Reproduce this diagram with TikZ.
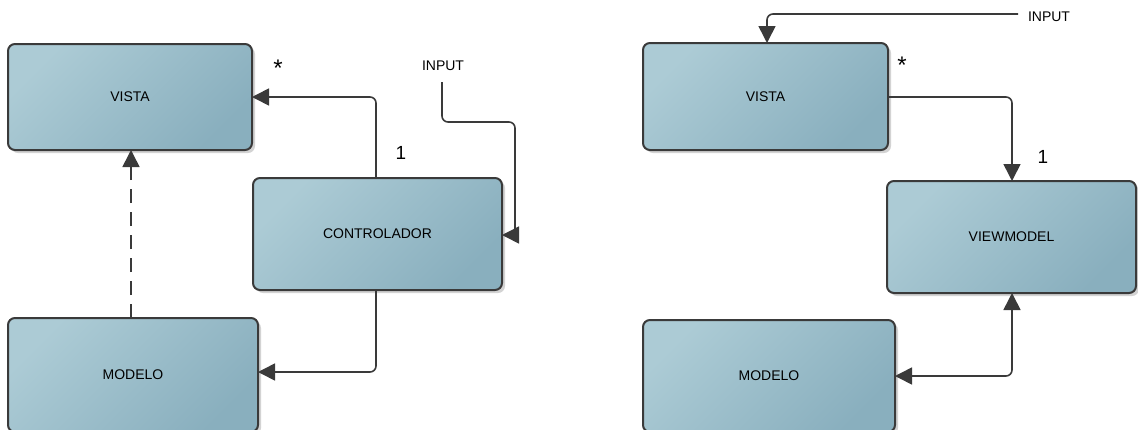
\documentclass[tikz,border=0pt]{standalone}
\usepackage{fontspec}
\setmainfont{Liberation Sans}
\usetikzlibrary{arrows.meta,shadows}
\definecolor{boxtop}{RGB}{172,203,213}
\definecolor{boxbot}{RGB}{137,175,190}
\definecolor{edge}{RGB}{58,58,58}
\definecolor{shd}{RGB}{200,200,200}
\tikzset{
  umlbox/.style={draw=edge, line width=2pt, rounded corners=7pt,
    top color=boxtop, bottom color=boxbot, shading angle=45,
    drop shadow={shadow xshift=3pt, shadow yshift=-3pt, fill=shd, opacity=0.8},
    font=\fontsize{14}{16}\selectfont},
  conn/.style={draw=edge, line width=1.6pt, rounded corners=6pt},
  tip/.style={-{Triangle[length=17pt,width=17pt]}},
  lbl/.style={font=\fontsize{14}{16}\selectfont, text=black, inner sep=0pt},
  mult/.style={font=\fontsize{19}{21}\selectfont, text=black, inner sep=0pt},
  star/.style={font=\fontsize{24}{26}\selectfont, text=black, inner sep=0pt},
}
\begin{document}
\begin{tikzpicture}[x=1pt,y=-1pt]
\useasboundingbox (0,0) rectangle (1138,429);
% left diagram
\draw[umlbox] (8,44) rectangle node (vl) {VISTA} (252,150);
\coordinate (vlr) at (252,97);
\coordinate (vlb) at (131,150);
\draw[umlbox] (253,178) rectangle node (cl) {CONTROLADOR} (502,290);
\coordinate (clt) at (376,178);
\coordinate (clb) at (376,290);
\coordinate (clr) at (502,235);
\draw[umlbox] (8,318) rectangle node (ml) {MODELO} (258,432);
\coordinate (mlr) at (258,372);
\coordinate (mlt) at (131,318);
\node[lbl] (inl) at (443,66) {INPUT};
\coordinate (inls) at (442,82);
\node[star] (sl) at (278,68) {*};
\node[mult] (ol) at (401,153) {1};

\draw[conn,tip] (clt) |- (vlr);
\draw[conn,tip] (clb) |- (mlr);
\draw[draw=edge, line width=1.6pt, dash pattern=on 14pt off 9pt, tip] (mlt) -- (vlb);
\draw[conn] (inls) |- (515,122) -- (515,235);
\draw[draw=edge, line width=1.6pt, tip] (515,235) -- (clr);

% right diagram
\draw[umlbox] (643,43) rectangle node (vr) {VISTA} (888,150);
\coordinate (vrr) at (888,97);
\coordinate (vrt) at (767,43);
\draw[umlbox] (887,181) rectangle node (vm) {VIEWMODEL} (1136,293);
\coordinate (vmt) at (1012,181);
\coordinate (vmb) at (1012,293);
\draw[umlbox] (643,320) rectangle node (mr) {MODELO} (895,432);
\coordinate (mrr) at (895,376);
\node[lbl] (inr) at (1049,17) {INPUT};
\coordinate (inrs) at (1018,14);
\node[star] (sr) at (902,65) {*};
\node[mult] (or) at (1043,157) {1};

\draw[conn,tip] (inrs) -| (vrt);
\draw[conn,tip] (vrr) -| (vmt);
\draw[conn,{Triangle[length=17pt,width=17pt]}-{Triangle[length=17pt,width=17pt]}] (vmb) |- (mrr);
\end{tikzpicture}
\end{document}
